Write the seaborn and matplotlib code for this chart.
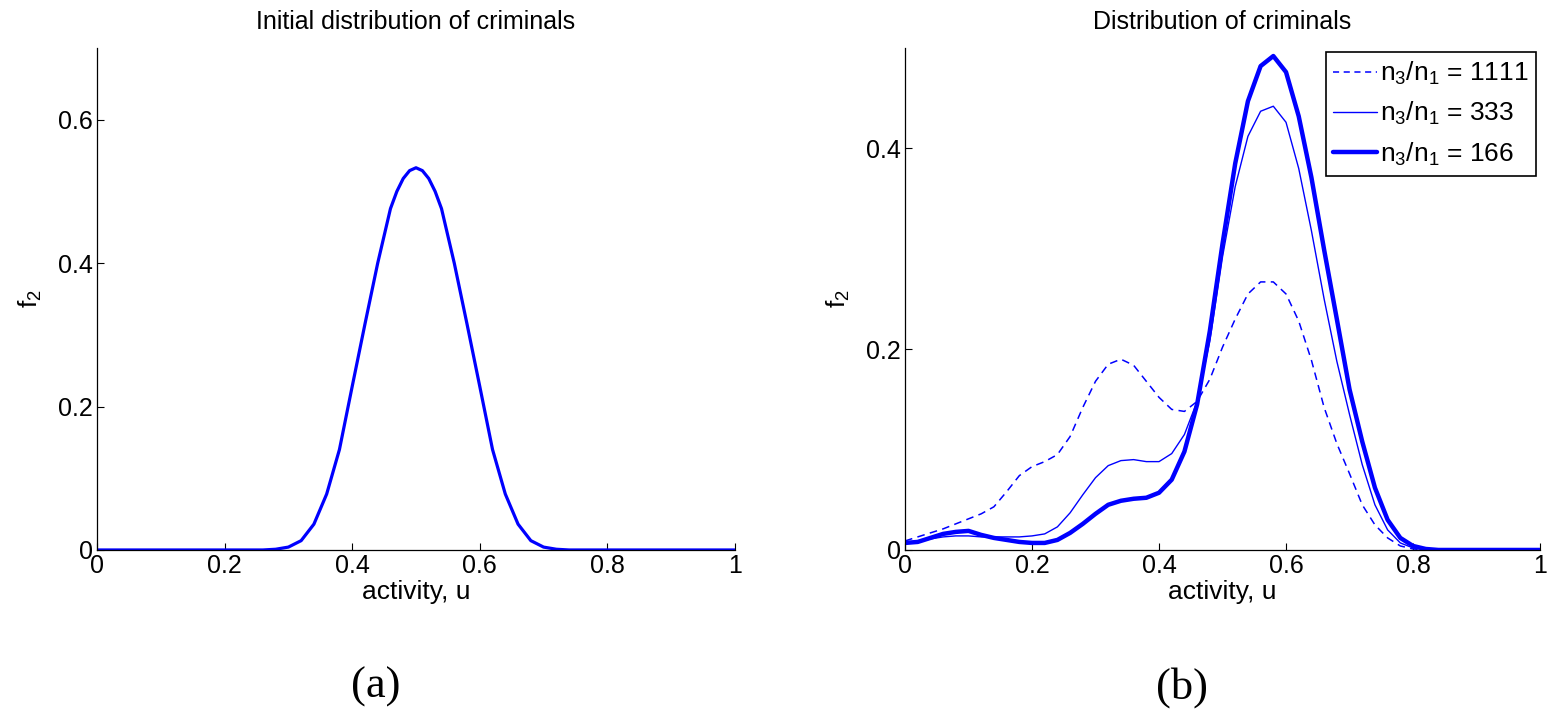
"""Initial vs evolved distribution of criminals f_2(u), two panels (a) and (b)."""
import matplotlib
matplotlib.use("Agg")
import matplotlib.pyplot as plt
from matplotlib.ticker import FuncFormatter
import numpy as np
import pandas as pd
import seaborn as sns

# ── data ─────────────────────────────────────────────────────────────────
U_INIT = [0.00, 0.10, 0.20, 0.26, 0.28, 0.30, 0.32, 0.34, 0.36, 0.38, 0.40,
          0.42, 0.44, 0.46, 0.47, 0.48, 0.49, 0.50, 0.51, 0.52, 0.53, 0.54, 0.56, 0.58,
          0.60, 0.62, 0.64, 0.66, 0.68, 0.70, 0.72, 0.74, 0.80, 0.90, 1.00]
F_INIT = [0.000, 0.000, 0.000, 0.000, 0.001, 0.004, 0.013, 0.036, 0.078, 0.140, 0.228,
          0.315, 0.400, 0.476, 0.500, 0.518, 0.529, 0.533, 0.529, 0.518, 0.500, 0.476, 0.400,
          0.315, 0.228, 0.140, 0.078, 0.036, 0.013, 0.004, 0.001, 0.000, 0.000, 0.000, 0.000]

U_RUN = [0.00, 0.02, 0.04, 0.06, 0.08, 0.10, 0.12, 0.14, 0.16, 0.18, 0.20,
         0.22, 0.24, 0.26, 0.28, 0.30, 0.32, 0.34, 0.36, 0.38, 0.40,
         0.42, 0.44, 0.46, 0.48, 0.50, 0.52, 0.54, 0.56, 0.58, 0.60,
         0.62, 0.64, 0.66, 0.68, 0.70, 0.72, 0.74, 0.76, 0.78, 0.80,
         0.82, 0.84, 0.90, 1.00]
F_1111 = [0.009, 0.013, 0.017, 0.021, 0.026, 0.031, 0.036, 0.043, 0.058, 0.074, 0.083,
          0.088, 0.095, 0.113, 0.142, 0.168, 0.185, 0.190, 0.184, 0.168, 0.152,
          0.140, 0.138, 0.148, 0.170, 0.202, 0.230, 0.255, 0.267, 0.267, 0.255,
          0.228, 0.189, 0.142, 0.106, 0.076, 0.045, 0.025, 0.012, 0.004, 0.001,
          0.000, 0.000, 0.000, 0.000]
F_333 = [0.007, 0.008, 0.011, 0.013, 0.014, 0.014, 0.013, 0.013, 0.013, 0.013, 0.014,
         0.016, 0.023, 0.037, 0.055, 0.072, 0.084, 0.089, 0.090, 0.088, 0.088,
         0.096, 0.115, 0.148, 0.208, 0.292, 0.362, 0.412, 0.437, 0.442, 0.426,
         0.380, 0.318, 0.250, 0.188, 0.135, 0.085, 0.045, 0.020, 0.007, 0.002,
         0.000, 0.000, 0.000, 0.000]
F_166 = [0.007, 0.008, 0.012, 0.016, 0.018, 0.019, 0.015, 0.012, 0.010, 0.008, 0.007,
         0.007, 0.010, 0.017, 0.026, 0.036, 0.045, 0.049, 0.051, 0.052, 0.057,
         0.070, 0.098, 0.145, 0.218, 0.305, 0.385, 0.447, 0.482, 0.492, 0.476,
         0.432, 0.371, 0.299, 0.230, 0.160, 0.108, 0.062, 0.030, 0.012, 0.004,
         0.001, 0.000, 0.000, 0.000]

RUN_LABELS = [r"n$_3$/n$_1$ = 1111", r"n$_3$/n$_1$ = 333", r"n$_3$/n$_1$ = 166"]

BLUE = "#0000ff"

sns.set_style("ticks")
plt.rcParams["font.family"] = ["Liberation Sans", "DejaVu Sans"]
plt.rcParams["mathtext.default"] = "regular"
plt.rcParams["xtick.direction"] = "in"
plt.rcParams["ytick.direction"] = "in"
for key in ("text.color", "axes.labelcolor", "xtick.color", "ytick.color",
            "axes.edgecolor"):
    plt.rcParams[key] = "black"

FS_TICK = 18
FS_LABEL = 19


def _style(ax, ymax, yticks):
    ax.set_xlim(0, 1)
    ax.set_ylim(0, ymax)
    ax.set_xticks([0, 0.2, 0.4, 0.6, 0.8, 1.0])
    ax.set_yticks(yticks)
    fmt = FuncFormatter(lambda v, _: f"{v:g}")
    ax.xaxis.set_major_formatter(fmt)
    ax.yaxis.set_major_formatter(fmt)
    ax.tick_params(labelsize=FS_TICK, length=5, width=0.8, colors="black", pad=3)
    for side in ("top", "right"):
        ax.spines[side].set_visible(False)
    for side in ("left", "bottom"):
        ax.spines[side].set_color("black")
        ax.spines[side].set_linewidth(0.9)
    ax.set_xlabel("activity, u", fontsize=FS_LABEL, labelpad=1)
    ax.set_ylabel("f$_2$", fontsize=FS_LABEL, labelpad=10)


fig = plt.figure(figsize=(15.47, 7.10), dpi=100)
ax_a = fig.add_axes([0.0627, 0.2254, 0.4124, 0.7070])
ax_b = fig.add_axes([0.5850, 0.2254, 0.4105, 0.7070])

# ── panel (a) ───────────────────────────────────────────────────────────
df_a = pd.DataFrame({"u": U_INIT, "f": F_INIT})
sns.lineplot(data=df_a, x="u", y="f", ax=ax_a, color=BLUE, linewidth=2.3,
             estimator=None, sort=False)
_style(ax_a, 0.7, [0, 0.2, 0.4, 0.6])
ax_a.set_title("Initial distribution of criminals", fontsize=18, pad=14)

# ── panel (b) ───────────────────────────────────────────────────────────
df_b = pd.DataFrame({"u": U_RUN, "f1111": F_1111, "f333": F_333, "f166": F_166})
sns.lineplot(data=df_b, x="u", y="f1111", ax=ax_b, color=BLUE, linewidth=1.1,
             estimator=None, label=RUN_LABELS[0])
ax_b.lines[-1].set_dashes((5, 3.5))
sns.lineplot(data=df_b, x="u", y="f333", ax=ax_b, color=BLUE, linewidth=1.0,
             estimator=None, label=RUN_LABELS[1])
sns.lineplot(data=df_b, x="u", y="f166", ax=ax_b, color=BLUE, linewidth=3.2,
             estimator=None, label=RUN_LABELS[2])
_style(ax_b, 0.5, [0, 0.2, 0.4])
ax_b.set_title("Distribution of criminals", fontsize=18, pad=14)
leg = ax_b.legend(loc="upper right", fontsize=19, frameon=True, fancybox=False,
                  handlelength=1.65, handletextpad=0.1, borderpad=0.3,
                  labelspacing=0.5, borderaxespad=0.15)
leg.get_frame().set_edgecolor("black")
leg.get_frame().set_linewidth(1.2)
leg.get_frame().set_alpha(1.0)
leg.get_lines()[0].set_dashes((4, 3))

# panel captions
fig.text(0.2429, 0.032, "(a)", fontsize=32, family=["Liberation Serif"],
         ha="center", va="center")
fig.text(0.7640, 0.032, "(b)", fontsize=32, family=["Liberation Serif"],
         ha="center", va="center")

fig.savefig("out.png", dpi=100)
